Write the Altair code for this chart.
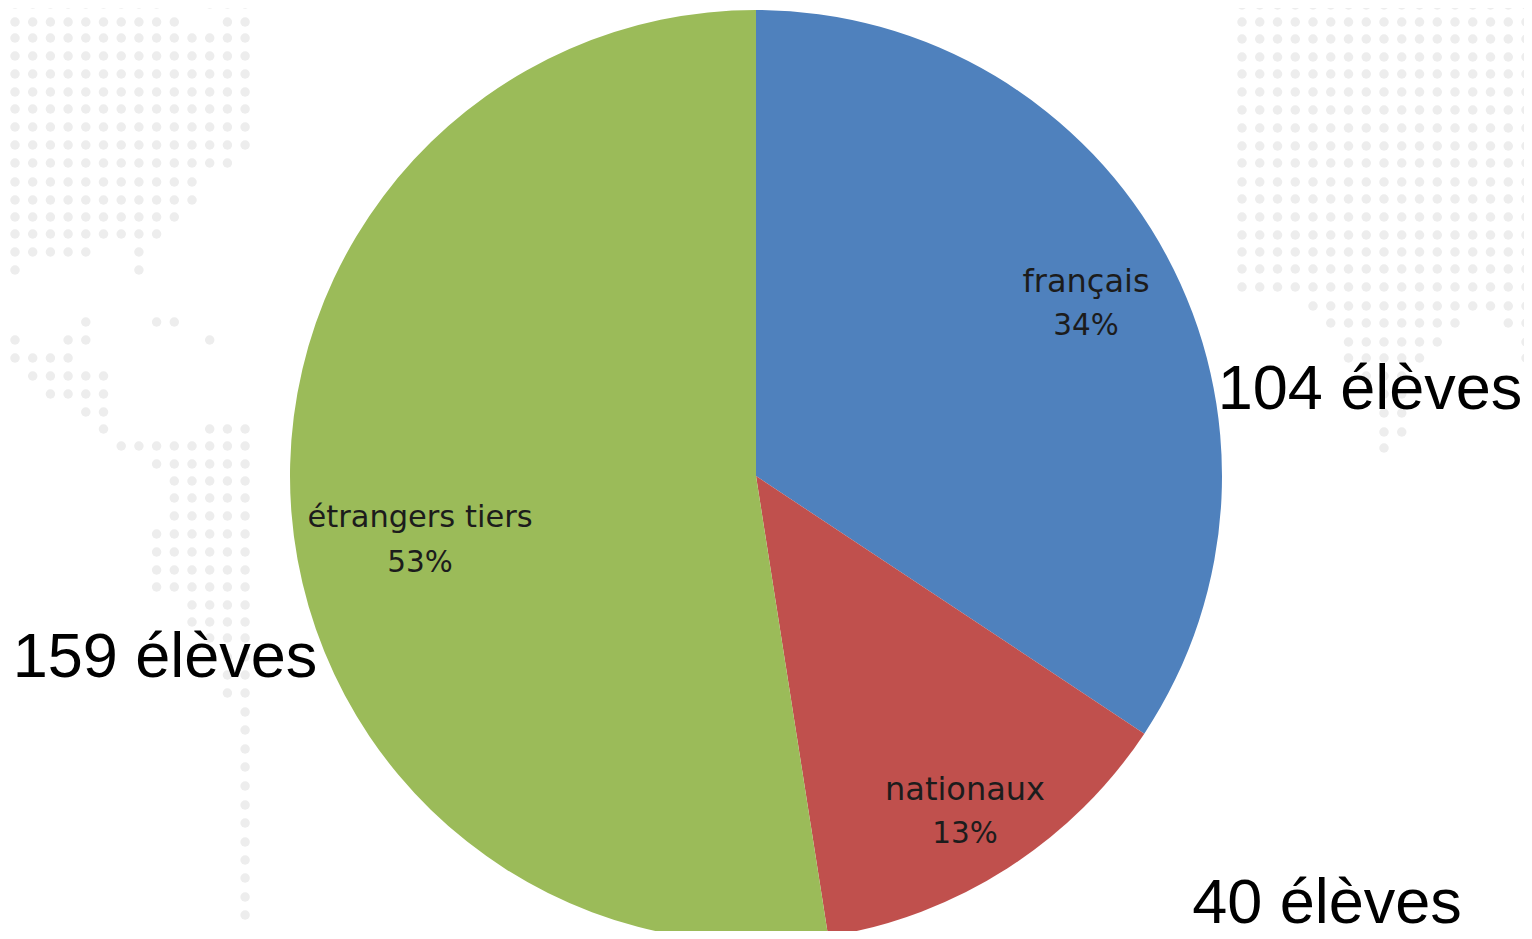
import altair as alt
import pandas as pd

categories = ["français", "nationaux", "étrangers tiers"]
counts = [104, 40, 159]
percents = ["34%", "13%", "53%"]
outside = ["104 élèves", "40 élèves", "159 élèves"]
colors = ["#4F81BD", "#C0504D", "#9BBB59"]

# Faint dotted world-map backdrop: (row y, [(first col, last col), ...])
left_columns = [15 + 17.7 * i for i in range(14)]
left_rows = [
    (4, [(1, 9), (12, 14)]), (22, [(1, 10), (13, 14)]), (38, [(1, 14)]), (56, [(1, 14)]),
    (74, [(1, 14)]), (92, [(1, 14)]), (109, [(1, 14)]), (127, [(1, 14)]), (145, [(1, 14)]),
    (163, [(1, 13)]), (182, [(1, 11)]), (200, [(1, 11)]), (217, [(1, 10)]), (234, [(1, 9)]),
    (252, [(1, 5), (8, 8)]), (270, [(1, 1), (8, 8)]),
    (322, [(5, 5), (9, 10)]), (340, [(1, 1), (4, 5), (12, 12)]), (358, [(1, 4)]),
    (376, [(2, 6)]), (394, [(3, 6)]), (412, [(5, 6)]), (429, [(6, 6), (12, 14)]),
    (446, [(7, 14)]), (464, [(9, 14)]), (481, [(10, 14)]), (498, [(10, 14)]), (516, [(10, 14)]),
    (534, [(9, 14)]), (552, [(9, 14)]), (570, [(9, 14)]), (587, [(9, 14)]),
    (605, [(11, 14)]), (622, [(11, 14)]), (638, [(12, 14)]), (657, [(13, 14)]), (675, [(13, 14)]),
    (693, [(13, 14)]), (712, [(14, 14)]), (730, [(14, 14)]), (749, [(14, 14)]), (767, [(14, 14)]),
    (786, [(14, 14)]), (805, [(14, 14)]), (823, [(14, 14)]), (842, [(14, 14)]), (860, [(14, 14)]),
    (878, [(14, 14)]), (897, [(14, 14)]), (915, [(14, 14)]),
]
right_columns = [1242 + 17.75 * i for i in range(17)]
right_rows = [
    (y, [(0, 16)]) for y in (5, 22, 39, 57, 74, 92, 110, 128, 146, 163, 182, 199, 217, 235, 252, 269, 287)
] + [
    (306, [(4, 16)]), (323, [(5, 12), (15, 16)]), (342, [(6, 11), (16, 16)]), (358, [(6, 10), (16, 16)]),
    (376, [(7, 9)]), (394, [(8, 9)]), (413, [(8, 9)]), (432, [(8, 9)]), (448, [(8, 8)]),
]

dots = []
for y, spans in left_rows:
    for a, b in spans:
        for c in range(a, b + 1):
            dots.append({"x": left_columns[c - 1], "y": y})
for y, spans in right_rows:
    for a, b in spans:
        for c in range(a, b + 1):
            dots.append({"x": right_columns[c], "y": y})
dots_df = pd.DataFrame(dots)

df = pd.DataFrame({"cat": categories, "n": counts, "pct": percents, "out": outside, "idx": range(3)})

W, H = 1516, 923
cx, cy = alt.value(748), alt.value(468)

backdrop = alt.Chart(dots_df).mark_point(filled=True, size=90, color="#ededed", opacity=1, clip=True).encode(
    x=alt.X("x:Q", scale=alt.Scale(domain=[8, 8 + W]), axis=None),
    y=alt.Y("y:Q", scale=alt.Scale(domain=[8, 8 + H], range=[0, H]), axis=None),
)

pie = alt.Chart(df).mark_arc(outerRadius=466).encode(
    theta=alt.Theta("n:Q", stack=True),
    color=alt.Color("cat:N", scale=alt.Scale(domain=categories, range=colors), legend=None),
    order=alt.Order("idx:Q"),
    x=cx, y=cy,
)


def label(i, field, px, py, size, font, color):
    return alt.Chart(df).transform_filter(alt.datum.idx == i).mark_text(
        fontSize=size, font=font, color=color, align="center", baseline="middle"
    ).encode(x=alt.value(px - 8), y=alt.value(py - 8), text=f"{field}:N")


inner = ("DejaVu Sans", "#1c1c1c")
layers = [
    backdrop,
    pie,
    label(0, "cat", 1086, 282, 32, *inner),
    label(0, "pct", 1086, 326, 29.5, *inner),
    label(1, "cat", 965, 790, 32, *inner),
    label(1, "pct", 965, 834, 29.5, *inner),
    label(2, "cat", 420, 518, 30.5, *inner),
    label(2, "pct", 420, 563, 29.5, *inner),
    label(0, "out", 1370, 390, 63, "Liberation Sans", "#000000"),
    label(1, "out", 1327, 904, 63, "Liberation Sans", "#000000"),
    label(2, "out", 165, 658, 63, "Liberation Sans", "#000000"),
]

chart = alt.layer(*layers).resolve_scale(x="independent", y="independent").properties(
    width=W, height=H, padding=0, autosize=alt.AutoSizeParams(type="none")
).configure_view(stroke=None)
chart.save("out.html", embed_options={"renderer": "svg", "actions": False})
